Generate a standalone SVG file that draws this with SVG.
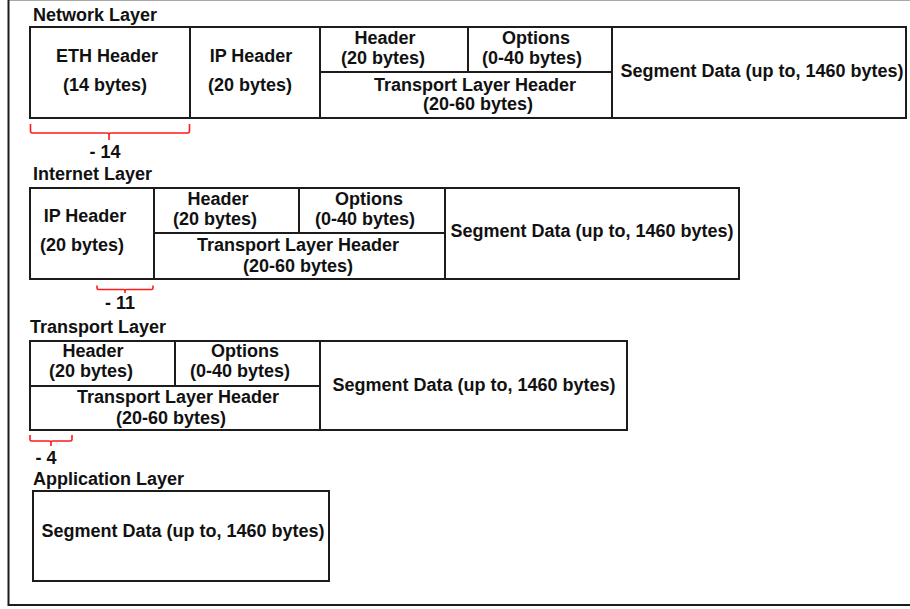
<svg xmlns="http://www.w3.org/2000/svg" width="910" height="609" viewBox="0 0 910 609">
  <style>
    .box { fill: #ffffff; stroke: #1c1c1c; stroke-width: 2; }
    .div { fill: none; stroke: #1c1c1c; stroke-width: 2; }
    .brace { fill: none; stroke: #ff1a1a; stroke-width: 1.6; stroke-linejoin: round; }
    text { font-family: "Liberation Sans", Arial, sans-serif; font-weight: bold; font-size: 18px; fill: #111111; }
    .c { text-anchor: middle; }
  </style>

  <!-- page frame -->
  <rect x="0" y="0" width="910" height="609" fill="#ffffff"/>
  <line x1="8" y1="0.5" x2="910" y2="0.5" stroke="#a8a8a8" stroke-width="1"/>
  <path d="M8.5,0 V605 H910" fill="none" stroke="#1c1c1c" stroke-width="2"/>

  <!-- Network layer frame -->
  <g id="network-layer">
    <text x="33" y="21">Network Layer</text>
    <rect class="box" x="30" y="27" width="876" height="91"/>
    <path class="div" d="M190,27 V118 M320,27 V118 M612,27 V118 M320,72 H612 M468,27 V72"/>
    <text class="c" x="107" y="62">ETH Header</text>
    <text class="c" x="105" y="91">(14 bytes)</text>
    <text class="c" x="251" y="62">IP Header</text>
    <text class="c" x="250" y="91">(20 bytes)</text>
    <text class="c" x="385" y="44">Header</text>
    <text class="c" x="383" y="64">(20 bytes)</text>
    <text class="c" x="536" y="44">Options</text>
    <text class="c" x="532" y="64">(0-40 bytes)</text>
    <text class="c" x="475" y="91">Transport Layer Header</text>
    <text class="c" x="478" y="110">(20-60 bytes)</text>
    <text class="c" x="762" y="77">Segment Data (up to, 1460 bytes)</text>
  </g>

  <!-- Internet layer frame -->
  <g id="internet-layer">
    <text x="33" y="180">Internet Layer</text>
    <rect class="box" x="30" y="188" width="709" height="91"/>
    <path class="div" d="M154,188 V279 M445,188 V279 M154,233 H445 M299,188 V233"/>
    <text class="c" x="85" y="222">IP Header</text>
    <text class="c" x="82" y="251">(20 bytes)</text>
    <text class="c" x="218" y="205">Header</text>
    <text class="c" x="215" y="225">(20 bytes)</text>
    <text class="c" x="369" y="205">Options</text>
    <text class="c" x="365" y="225">(0-40 bytes)</text>
    <text class="c" x="298" y="251">Transport Layer Header</text>
    <text class="c" x="298" y="272">(20-60 bytes)</text>
    <text class="c" x="592" y="237">Segment Data (up to, 1460 bytes)</text>
  </g>

  <!-- Transport layer frame -->
  <g id="transport-layer">
    <text x="30" y="333">Transport Layer</text>
    <rect class="box" x="30" y="341" width="597" height="89"/>
    <path class="div" d="M320,341 V430 M30,386 H320 M175,341 V386"/>
    <text class="c" x="93" y="357">Header</text>
    <text class="c" x="91" y="377">(20 bytes)</text>
    <text class="c" x="245" y="357">Options</text>
    <text class="c" x="240" y="377">(0-40 bytes)</text>
    <text class="c" x="178" y="403">Transport Layer Header</text>
    <text class="c" x="171" y="424">(20-60 bytes)</text>
    <text class="c" x="474" y="391">Segment Data (up to, 1460 bytes)</text>
  </g>

  <!-- Application layer frame -->
  <g id="application-layer">
    <text x="33" y="485">Application Layer</text>
    <rect class="box" x="33" y="491" width="296" height="90"/>
    <text class="c" x="183" y="537">Segment Data (up to, 1460 bytes)</text>
  </g>

  <!-- header-stripping braces -->
  <g id="braces">
    <path class="brace" d="M30.5,124 V131 Q30.5,133 32.5,133 H107 Q109,133 109,135 V140 M109,135 Q109,133 111,133 H187.5 Q189.5,133 189.5,131 V124"/>
    <text class="c" x="105" y="158">- 14</text>
    <path class="brace" d="M97,285.5 V288 Q97,289.5 98.5,289.5 H123.5 Q125,289.5 125,291 V293 M125,291 Q125,289.5 126.5,289.5 H151.5 Q153,289.5 153,288 V285.5"/>
    <text class="c" x="120" y="309">- 11</text>
    <path class="brace" d="M30,435 V439.5 Q30,441 31.5,441 H49.5 Q51,441 51,442.5 V446 M51,442.5 Q51,441 52.5,441 H70.5 Q72,441 72,439.5 V435"/>
    <text class="c" x="46" y="464">- 4</text>
  </g>
</svg>
